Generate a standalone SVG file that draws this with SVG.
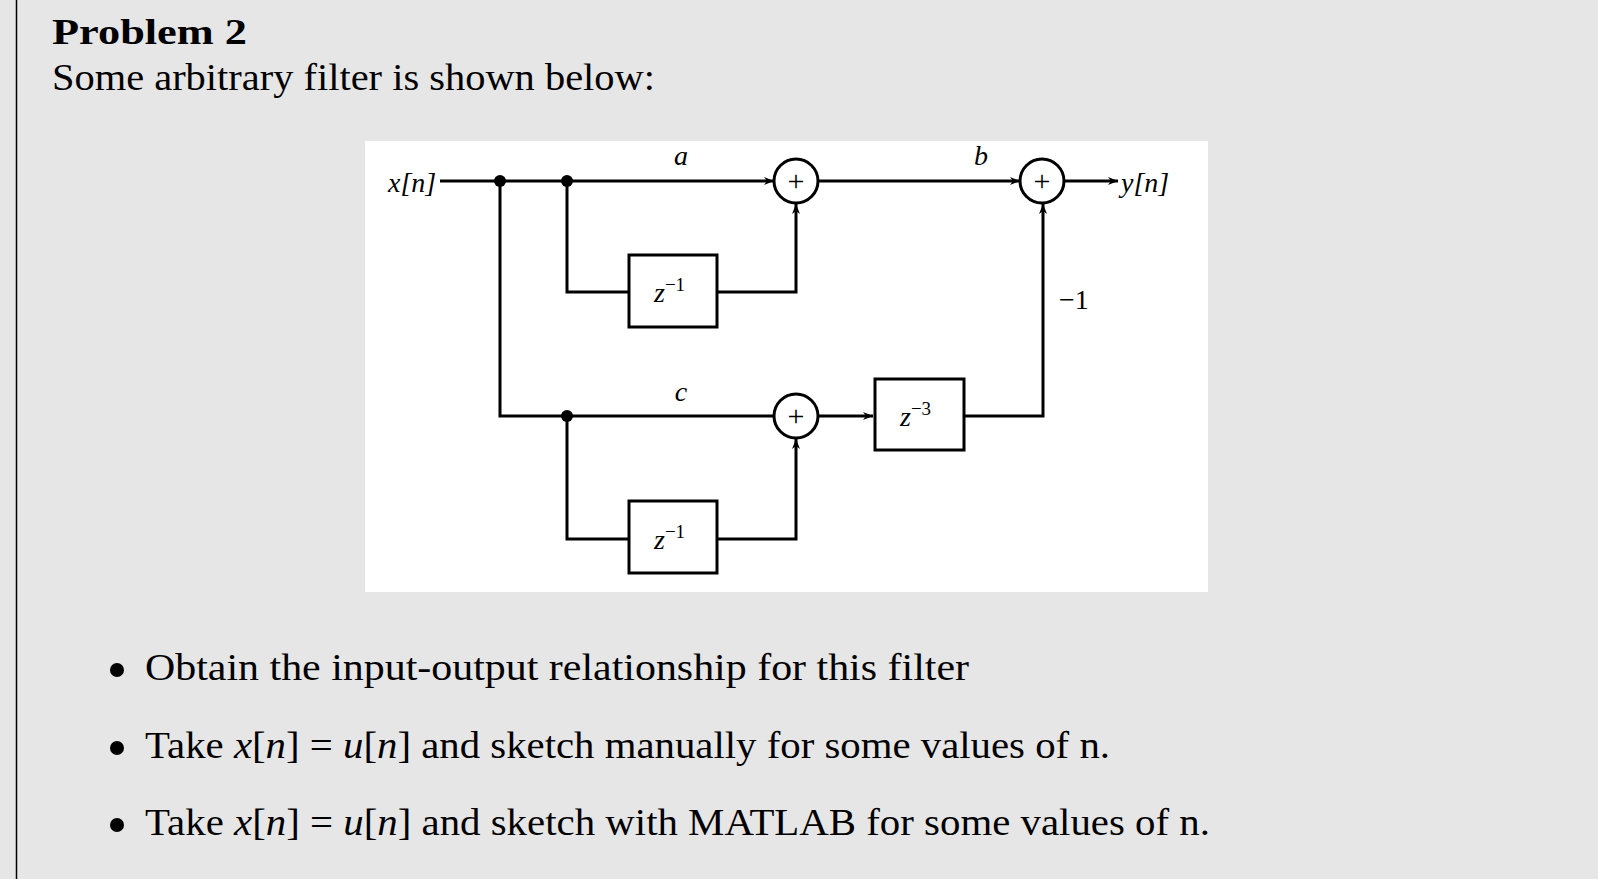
<svg xmlns="http://www.w3.org/2000/svg" width="1598" height="879" viewBox="0 0 1598 879">
<defs>
<marker id="ah" viewBox="0 0 10 10" refX="10" refY="5" markerWidth="10" markerHeight="10" markerUnits="userSpaceOnUse" orient="auto"><path d="M0,1 L10,5 L0,9 L3,5 Z" fill="#000"/></marker>
</defs>
<style>
.t{font-family:"Liberation Serif",serif;fill:#000}
.w{stroke:#000;stroke-width:3;fill:none}
.box{stroke:#000;stroke-width:3;fill:#fff}
.d{font-family:"Liberation Serif",serif;font-style:italic;font-size:28px}
.s{font-family:"Liberation Serif",serif;font-size:30px}
</style>
<rect width="1598" height="879" fill="#e6e6e6"/>
<line x1="16.5" y1="0" x2="16.5" y2="879" stroke="#000" stroke-width="1.5"/>
<text class="t" x="52" y="44" font-size="36" font-weight="bold" textLength="195" lengthAdjust="spacingAndGlyphs">Problem 2</text>
<text class="t" x="52" y="90" font-size="37" textLength="603" lengthAdjust="spacingAndGlyphs">Some arbitrary filter is shown below:</text>
<rect x="365" y="141" width="843" height="451" fill="#fff"/>
<g id="connectors">
<path class="w" d="M440,181 H774" marker-end="url(#ah)"/>
<path class="w" d="M818,181 H1020" marker-end="url(#ah)"/>
<path class="w" d="M1064,181 H1118" marker-end="url(#ah)"/>
<path class="w" d="M567,181 V292 H629"/>
<path class="w" d="M717,292 H796 V204" marker-end="url(#ah)"/>
<path class="w" d="M500,181 V416 H774"/>
<path class="w" d="M567,416 V539 H629"/>
<path class="w" d="M717,539 H796 V439" marker-end="url(#ah)"/>
<path class="w" d="M818,416 H873" marker-end="url(#ah)"/>
<path class="w" d="M964,416 H1043 V204" marker-end="url(#ah)"/>
<circle cx="500" cy="181" r="6"/>
<circle cx="567" cy="181" r="6"/>
<circle cx="567" cy="416" r="6"/>
</g>
<g id="sum1"><circle class="box" cx="796" cy="181" r="22"/><text class="s" x="796" y="191" text-anchor="middle">+</text></g>
<g id="sum2"><circle class="box" cx="1042" cy="181" r="22"/><text class="s" x="1042" y="191" text-anchor="middle">+</text></g>
<g id="sum3"><circle class="box" cx="796" cy="416" r="22"/><text class="s" x="796" y="426" text-anchor="middle">+</text></g>
<g id="delay1"><rect class="box" x="629" y="255" width="88" height="72"/><text class="d" x="654" y="302">z<tspan font-style="normal" font-size="19" dy="-11">−1</tspan></text></g>
<g id="delay2"><rect class="box" x="629" y="501" width="88" height="72"/><text class="d" x="654" y="549">z<tspan font-style="normal" font-size="19" dy="-11">−1</tspan></text></g>
<g id="delay3"><rect class="box" x="875" y="379" width="89" height="71"/><text class="d" x="900" y="426">z<tspan font-style="normal" font-size="19" dy="-11">−3</tspan></text></g>
<g id="labels">
<text class="d" x="388" y="192">x[n]</text>
<text class="d" x="1121" y="192">y[n]</text>
<text class="d" x="681" y="165" text-anchor="middle">a</text>
<text class="d" x="981" y="165" text-anchor="middle">b</text>
<text class="d" x="681" y="401" text-anchor="middle">c</text>
<text class="t" x="1059" y="309" font-size="28">−1</text>
</g>
<g class="t" font-size="37">
<circle cx="117" cy="670" r="7"/>
<text x="145" y="680" textLength="824" lengthAdjust="spacingAndGlyphs">Obtain the input-output relationship for this filter</text>
<circle cx="117" cy="748" r="7"/>
<text x="145" y="758" textLength="965" lengthAdjust="spacingAndGlyphs">Take <tspan font-style="italic">x</tspan>[<tspan font-style="italic">n</tspan>] = <tspan font-style="italic">u</tspan>[<tspan font-style="italic">n</tspan>] and sketch manually for some values of n.</text>
<circle cx="117" cy="825" r="7"/>
<text x="145" y="835" textLength="1065" lengthAdjust="spacingAndGlyphs">Take <tspan font-style="italic">x</tspan>[<tspan font-style="italic">n</tspan>] = <tspan font-style="italic">u</tspan>[<tspan font-style="italic">n</tspan>] and sketch with MATLAB for some values of n.</text>
</g>
</svg>
